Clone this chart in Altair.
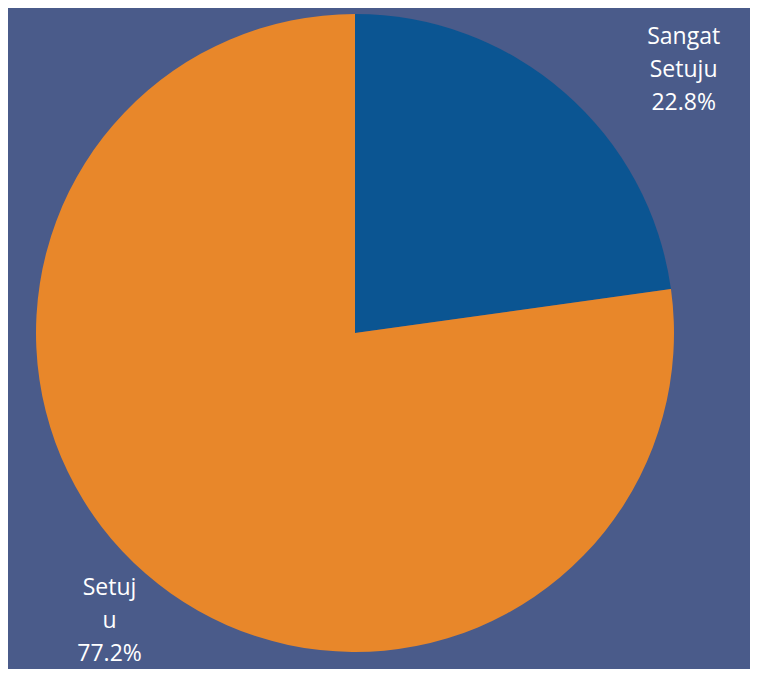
import altair as alt
import pandas as pd

categories = ["Sangat Setuju", "Setuju"]
label_lines = ["Sangat\nSetuju", "Setuj\nu"]
values = [22.8, 77.2]
colors = ["#0b5592", "#e8872a"]

df = pd.DataFrame({
    "category": categories,
    "value": values,
    "order": list(range(len(categories))),
})
df["label"] = [f"{l}\n{v:.1f}%" for l, v in zip(label_lines, values)]
total = float(sum(values))

CX, CY = 347, 325
theta_scale = alt.Scale(domain=[0, total], zero=True, nice=False)

base = alt.Chart(df).transform_stack(
    stack="value", as_=["v0", "v1"], groupby=[],
    sort=[alt.SortField("order", order="ascending")],
).transform_calculate(mid="(datum.v0 + datum.v1) / 2")

pie = base.mark_arc(outerRadius=319, stroke=None).encode(
    theta=alt.Theta("v0:Q", title=None, scale=theta_scale),
    theta2="v1:Q",
    color=alt.Color("category:N",
                    scale=alt.Scale(domain=categories, range=colors),
                    legend=None),
    x=alt.value(CX), y=alt.value(CY),
)

def label_layer(cat, radius, dx, dy):
    return base.transform_filter(alt.datum.category == cat).mark_text(
        radius=radius, dx=dx, dy=dy, fontSize=23, lineHeight=33,
        font="Open Sans", color="white", align="center", baseline="middle",
        lineBreak="\n",
    ).encode(
        theta=alt.Theta("mid:Q", title=None, scale=theta_scale),
        text="label:N", x=alt.value(CX), y=alt.value(CY),
    )

chart = alt.layer(
    pie,
    label_layer("Sangat Setuju", 400, 66, 6),
    label_layer("Setuju", 386, 8, -36),
).properties(
    width=742, height=661, padding=0,
    autosize=alt.AutoSizeParams(type="none"),
    background="#4a5b8a",
).configure_view(stroke=None)

chart.save("out.html", embed_options={"renderer": "svg", "actions": False})
